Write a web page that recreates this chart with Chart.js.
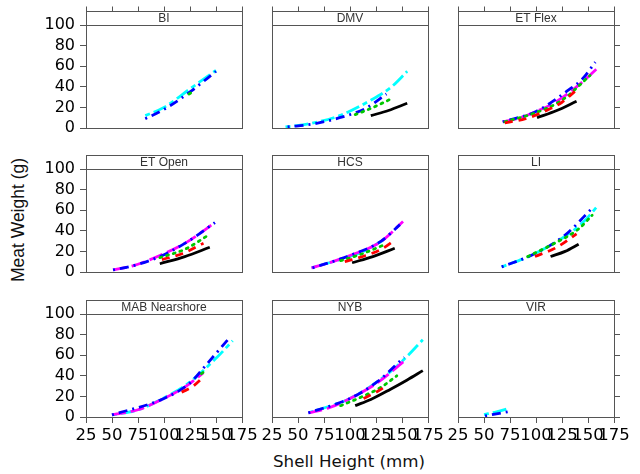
<!DOCTYPE html>
<html>
<head>
<meta charset="utf-8">
<script src="https://cdn.jsdelivr.net/npm/chart.js@4.4.1/dist/chart.umd.min.js"></script>
<style>
body { margin: 0; background: #fff; }
#wrap { position: relative; width: 640px; height: 474px; overflow: hidden; font-family: "Liberation Sans", Arial, sans-serif; }
#wrap canvas { position: absolute; }
.axtitle { position: absolute; color: #111; white-space: nowrap; }
#ytitle { font-family: "Liberation Sans", Arial, sans-serif; font-size: 17.5px; }
#xtitle { font-family: "DejaVu Sans", sans-serif; font-size: 16.7px; }
</style>
</head>
<body>
<div id="wrap">
  <div class="axtitle" id="ytitle">Meat Weight (g)</div>
  <div class="axtitle" id="xtitle">Shell Height (mm)</div>
</div>
<script>
var panelNames = ['BI', 'DMV', 'ET Flex', 'ET Open', 'HCS', 'LI', 'MAB Nearshore', 'NYB', 'VIR'];
var xTicks = [25, 50, 75, 100, 125, 150, 175];
var yTicks = [0, 20, 40, 60, 80, 100];

// [shell height, meat weight] per panel, in panel order (null = no line there)
var blackSolid = [
  null,
  [[120, 12], [137, 17], [155, 24]],
  [[101, 10], [120, 17], [139, 26]],
  [[96, 8], [120, 15], [144, 24]],
  [[102, 9], [122, 15], [143, 23]],
  [[114, 15], [128, 20], [141, 27]],
  null,
  [[105, 11], [120, 17], [139, 27], [155, 36], [170, 45]],
  null
];
var redDash = [
  null,
  null,
  [[70, 5], [90, 9], [110, 17], [125, 25], [139, 37]],
  [[98, 12], [118, 18], [138, 28]],
  [[95, 10], [115, 16], [130, 22], [143, 31]],
  [[99, 15], [120, 24], [139, 37]],
  [[117, 24], [128, 30], [138, 39]],
  [[113, 18], [125, 24], [136, 31]],
  null
];
var greenDot = [
  [[124, 33], [129, 36]],
  [[105, 13], [120, 19], [139, 28]],
  [[70, 6], [100, 15], [125, 27], [152, 51]],
  [[96, 14], [120, 22], [143, 36]],
  [[91, 11], [110, 17], [132, 26]],
  [[92, 15], [120, 29], [140, 41], [154, 55]],
  [[136, 42], [141, 46]],
  [[91, 11], [110, 19], [130, 29], [145, 40]],
  null
];
var blueDotDash = [
  [[82, 9], [100, 18], [125, 35], [150, 55]],
  [[40, 1], [65, 4], [90, 10], [115, 19], [135, 33]],
  [[68, 6], [100, 16], [130, 36], [145, 48], [157, 64]],
  [[51, 2], [70, 6], [96, 15], [122, 29], [149, 48]],
  [[64, 4], [100, 16], [130, 30], [148, 46]],
  [[67, 5], [95, 16], [127, 35], [155, 63]],
  [[50, 2], [100, 18], [125, 33], [140, 50], [163, 77]],
  [[60, 4], [100, 18], [126, 34], [152, 58]],
  [[51, 1], [67, 4], [75, 5.5]]
];
var magentaLong = [
  null,
  null,
  [[68, 6], [85, 10], [100, 16], [115, 23], [130, 33], [145, 45], [159, 58]],
  [[51, 2], [70, 6], [96, 16], [122, 29], [149, 48]],
  [[63, 4], [80, 9], [100, 16], [129, 29], [151, 49]],
  null,
  [[50, 2], [75, 7], [100, 18], [120, 29], [138, 43]],
  [[60, 4], [80, 9], [100, 18], [126, 33], [153, 55]],
  null
];
var cyanTwoDash = [
  [[82, 12], [100, 20], [125, 38], [150, 56]],
  [[38, 1], [60, 4], [90, 12], [120, 27], [140, 40], [155, 55]],
  null,
  null,
  [[63, 4], [90, 12], [115, 21], [132, 31]],
  [[67, 5], [95, 16], [127, 34], [145, 48], [160, 65]],
  [[50, 2], [75, 7], [99, 18], [125, 34], [151, 58], [166, 74]],
  [[60, 4], [100, 18], [126, 34], [149, 53], [170, 75]],
  [[50, 2.3], [62, 5], [75, 8.7]]
];

var allSeries = [blackSolid, redDash, greenDot, blueDotDash, magentaLong, cyanTwoDash];
var lineColors = ['#000000', '#ff0000', '#00c800', '#0000ff', '#ff00ff', '#00ffff'];
var lineDashes = [[], [8, 6], [2, 5], [2, 5, 9, 5], [14, 5], [5, 4, 14, 4]];

// panel geometry: the chart area spans strip + plot, the strip is drawn over its top 14px
// (padT has to stay above the y labels' own top padding, or column 1 shifts down)
var colLeft = [86, 272, 458], stripTop = [11, 155, 300];
var plotW = 156, plotH = 103, stripH = 14;
var padL = 80, padR = 20, padT = 20, padB = 45;
var yTop = 100 * (plotH + stripH) / plotH;
var tickFont = '"DejaVu Sans", sans-serif';

Chart.defaults.font.family = tickFont;
Chart.defaults.color = '#000';

// lattice-style strip with the panel name, plus top-row tick marks
function stripPlugin(name, showTicks) {
  return {
    id: 'strip',
    afterDraw: function(chart) {
      var a = chart.chartArea, ctx = chart.ctx, s = chart.scales.x;
      var l = Math.round(a.left) + 0.5, r = Math.round(a.right) + 0.5, t = Math.round(a.top) + 0.5;
      ctx.save();
      ctx.fillStyle = '#fff';
      ctx.fillRect(l, t, r - l, stripH);
      ctx.strokeStyle = '#555';
      ctx.lineWidth = 1;
      ctx.strokeRect(l, t, r - l, stripH);
      ctx.fillStyle = '#333';
      ctx.font = '12px "Liberation Sans", Arial, sans-serif';
      ctx.textAlign = 'center';
      ctx.textBaseline = 'middle';
      ctx.fillText(name, (a.left + a.right) / 2, a.top + stripH / 2 + 0.5);
      if (showTicks) {
        xTicks.forEach(function(v) {
          var px = Math.round(s.getPixelForValue(v)) + 0.5;
          ctx.beginPath();
          ctx.moveTo(px, t);
          ctx.lineTo(px, t - 5);
          ctx.stroke();
        });
      }
      ctx.restore();
    }
  };
}

var wrap = document.getElementById('wrap');

panelNames.forEach(function(name, i) {
  var col = i % 3, row = Math.floor(i / 3);
  var cv = document.createElement('canvas');
  cv.width = plotW + padL + padR;
  cv.height = plotH + stripH + padT + padB;
  cv.style.left = (colLeft[col] - padL) + 'px';
  cv.style.top = (stripTop[row] - padT) + 'px';
  wrap.appendChild(cv);

  var sets = [];
  allSeries.forEach(function(s, k) {
    if (!s[i]) return;
    sets.push({
      label: name + ' ' + k,
      data: s[i].map(function(p) { return { x: p[0], y: p[1] }; }),
      borderColor: lineColors[k],
      borderDash: lineDashes[k],
      borderWidth: 2.8,
      borderCapStyle: k == 2 ? 'round' : 'butt',
      pointRadius: 0,
      cubicInterpolationMode: 'monotone',
      fill: false
    });
  });

  var border = { display: true, color: '#555', width: 1 };
  new Chart(cv, {
    type: 'line',
    data: { datasets: sets },
    plugins: [stripPlugin(name, row == 0)],
    options: {
      responsive: false,
      animation: false,
      layout: { padding: 0 },
      plugins: { legend: { display: false }, tooltip: { enabled: false } },
      scales: {
        x: {
          type: 'linear', position: 'bottom', min: 25, max: 175,
          afterBuildTicks: function(s) { s.ticks = xTicks.map(function(v) { return { value: v }; }); },
          afterFit: function(s) { s.height = padB; },
          border: border,
          grid: { drawOnChartArea: false, tickLength: row == 2 ? 6 : 0, tickColor: '#555' },
          ticks: { display: row == 2, autoSkip: false, maxRotation: 0, padding: 3, font: { size: 16.5 }, color: '#000' }
        },
        xt: {
          type: 'linear', position: 'top', min: 25, max: 175,
          afterBuildTicks: function(s) { s.ticks = xTicks.map(function(v) { return { value: v }; }); },
          afterFit: function(s) { s.height = padT; },
          border: border,
          grid: { drawOnChartArea: false, tickLength: 0 },
          ticks: { display: false }
        },
        y: {
          type: 'linear', position: 'left', min: 0, max: yTop,
          afterBuildTicks: function(s) { s.ticks = yTicks.map(function(v) { return { value: v }; }); },
          afterFit: function(s) { s.width = padL; },
          border: border,
          grid: { drawOnChartArea: false, tickLength: col == 0 ? 6 : 0, tickColor: '#555' },
          ticks: { display: col == 0, autoSkip: false, padding: 5, font: { size: 16 }, color: '#000' }
        },
        yr: {
          type: 'linear', position: 'right', min: 0, max: yTop,
          afterBuildTicks: function(s) { s.ticks = yTicks.map(function(v) { return { value: v }; }); },
          afterFit: function(s) { s.width = padR; },
          border: border,
          grid: { drawOnChartArea: false, tickLength: col == 2 ? 6 : 0, tickColor: '#555' },
          ticks: { display: false }
        }
      }
    }
  });
});

var yt = document.getElementById('ytitle');
yt.style.left = '18px';
yt.style.top = '220px';
yt.style.transform = 'translate(-50%, -50%) rotate(-90deg)';
var xt = document.getElementById('xtitle');
xt.style.left = '349px';
xt.style.top = '461px';
xt.style.transform = 'translate(-50%, -50%)';
</script>
</body>
</html>
